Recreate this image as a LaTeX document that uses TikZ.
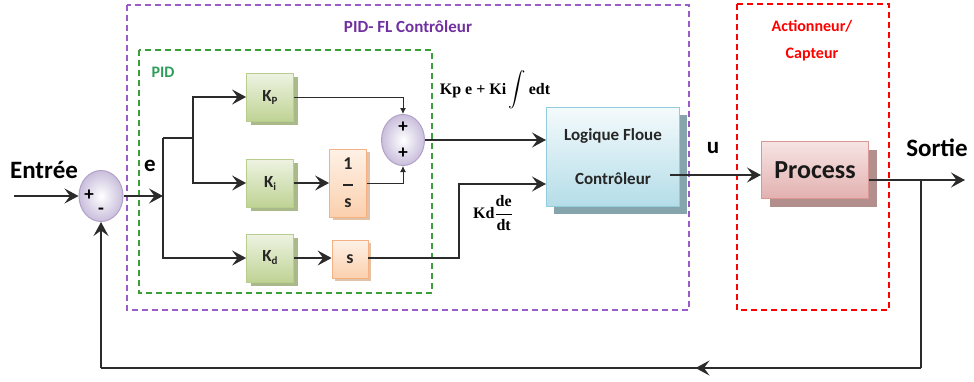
\documentclass[tikz,border=0pt]{standalone}
\usepackage{amsmath}
\usepackage{fontspec}
\usepackage{graphicx}
\setmainfont{Carlito}
\newfontfamily\serifb{Liberation Serif}
\usetikzlibrary{arrows.meta,shapes.geometric,shadows,calc,decorations.markings}
\definecolor{gtop}{HTML}{EEF3E2}
\definecolor{gbot}{HTML}{BFD394}
\definecolor{gbrd}{HTML}{B9CD8E}
\definecolor{gsh}{HTML}{A9B98A}
\definecolor{otop}{HTML}{FEF1E6}
\definecolor{obot}{HTML}{FBD0AE}
\definecolor{obrd}{HTML}{F4B183}
\definecolor{osh}{HTML}{E2C2A6}
\definecolor{ctop}{HTML}{FFFFFF}
\definecolor{cbot}{HTML}{C9BEDC}
\definecolor{cbrd}{HTML}{B3A2C7}
\definecolor{ftop}{HTML}{F4FAFC}
\definecolor{fbot}{HTML}{B4DDE8}
\definecolor{fbrd}{HTML}{93CDDD}
\definecolor{fsh}{HTML}{86A4AB}
\definecolor{ptop}{HTML}{F6E4E3}
\definecolor{pbot}{HTML}{E2B1B0}
\definecolor{pbrd}{HTML}{D99694}
\definecolor{psh}{HTML}{B28E8D}
\definecolor{purp}{HTML}{9A5CC6}
\definecolor{purptxt}{HTML}{7030A0}
\definecolor{dgreen}{HTML}{3A9E3A}
\definecolor{pidtxt}{HTML}{2E9D5B}
\definecolor{lncol}{HTML}{2B2B2B}
\newcommand\lowsub[1]{\raisebox{-3pt}{\fontsize{11pt}{11pt}\selectfont #1}}
\tikzset{
  ln/.style={draw=lncol, line width=1.3pt},
  tipb/.tip={Stealth[length=14pt,width=15pt,inset=5.5pt]},
  arr/.style={ln, -tipb},
  arrs/.style={ln, line width=1pt, -{Latex[length=6pt,width=6pt]}},
  gbox/.style={draw=gbrd, line width=0.8pt, top color=gtop, bottom color=gbot,
    minimum width=47pt, minimum height=48pt, inner sep=0pt,
    font=\fontsize{17pt}{17pt}\selectfont\bfseries, text=black!85,
    drop shadow={shadow xshift=4pt, shadow yshift=-4pt, fill=gsh, opacity=1}},
  obox/.style={draw=obrd, line width=0.8pt, top color=otop, bottom color=obot,
    minimum width=37pt, inner sep=0pt, align=center,
    font=\fontsize{18pt}{18pt}\selectfont\bfseries, text=black!85,
    drop shadow={shadow xshift=3pt, shadow yshift=-3pt, fill=osh, opacity=1}},
  sumc/.style={ellipse, draw=cbrd, line width=1pt, inner color=ctop, outer color=cbot,
    minimum width=44pt, minimum height=51pt, inner sep=0pt},
  sign/.style={font=\fontsize{19pt}{19pt}\selectfont\bfseries, inner sep=0pt},
  flbox/.style={draw=fbrd, line width=1pt, top color=ftop, bottom color=fbot,
    minimum width=133pt, minimum height=99pt, inner sep=0pt, align=center,
    font=\fontsize{17pt}{20pt}\selectfont\bfseries, text=black!85,
    drop shadow={shadow xshift=7pt, shadow yshift=-7pt, fill=fsh, opacity=1}},
  pbox/.style={draw=pbrd, line width=1pt, top color=ptop, bottom color=pbot,
    minimum width=107pt, minimum height=57pt, inner sep=0pt,
    font=\fontsize{26pt}{26pt}\selectfont\bfseries, text=black!90,
    drop shadow={shadow xshift=8pt, shadow yshift=-8pt, fill=psh, opacity=1}},
  lbl/.style={inner sep=0pt, font=\fontsize{25pt}{25pt}\selectfont\bfseries},
  dashp/.style={draw=purp, line width=1.6pt, dash pattern=on 6pt off 4pt},
  dashg/.style={draw=dgreen, line width=1.6pt, dash pattern=on 6pt off 4pt},
  dashr/.style={draw=red, line width=1.6pt, dash pattern=on 6pt off 4pt},
}
\begin{document}
\begin{tikzpicture}[x=1pt,y=-1pt]
\useasboundingbox (0,0) rectangle (974,381);
% dashed regions
\draw[dashp] (127,5) rectangle (689,310);
\draw[dashg] (139,50) rectangle (432,293);
\draw[dashr] (737,4) rectangle (889,310);
\node[inner sep=0pt, text=purptxt, font=\fontsize{17pt}{17pt}\selectfont\bfseries] (ttitle) at (408,27) {PID- FL Contrôleur};
\node[inner sep=0pt, text=pidtxt, font=\fontsize{16pt}{16pt}\selectfont\bfseries] (tpid) at (163,72) {PID};
\node[inner sep=0pt, text=red, align=center, font=\fontsize{16pt}{27pt}\selectfont\bfseries] (tact) at (812,41) {Actionneur/\\Capteur};
% blocks
\node[sumc] (s1) at (101,196) {};
\node[sign] (s1p) at (89,195) {+};
\node[sign] (s1m) at (101,211) {-};
\node[gbox] (Kp) at (270,97) {K\lowsub{P}};
\node[gbox] (Ki) at (270,183) {K\lowsub{i}};
\node[gbox] (Kd) at (270,258) {K\lowsub{d}};
\node[obox, minimum height=68pt] (inv) at (348,183) {1\\[-2pt]\rule{10pt}{1.3pt}\\[4pt]s};
\node[obox, minimum height=38pt, minimum width=36pt] (sb) at (350,259) {s};
\node[sumc, minimum width=43pt] (s2) at (403,140) {};
\node[sign] (s2a) at (403,127) {+};
\node[sign] (s2b) at (403,153) {+};
\node[flbox] (FL) at (613,157) {Logique Floue\\[24pt]Contrôleur};
\node[pbox] (P) at (815,170) {Process};
% labels
\node[lbl] (tin) at (44,170) {Entrée};
\node[lbl, font=\fontsize{23pt}{23pt}\selectfont\bfseries] (te) at (150,166) {e};
\node[lbl, font=\fontsize{23pt}{23pt}\selectfont\bfseries] (tu) at (713,148) {u};
\node[lbl] (tout) at (937,148) {Sortie};
\node[inner sep=0pt, font=\serifb\fontsize{16pt}{16pt}\selectfont\bfseries] (tpi) at (495,90) {Kp e + Ki\,$\displaystyle\int$\,edt};
\node[inner sep=0pt, font=\serifb\fontsize{16pt}{16pt}\selectfont\bfseries] (tkd) at (493,213) {Kd$\displaystyle\frac{\mbox{de}}{\mbox{dt}}$};
% connectors
\coordinate (in) at (14,196);
\coordinate (b1) at (163,196);
\coordinate (b2) at (163,138);
\coordinate (b3) at (193,138);
\coordinate (dk) at (459,184);
\coordinate (uo) at (670,175);
\coordinate (po) at (869,180);
\coordinate (out) at (965,180);
\coordinate (fb) at (921,180);
\coordinate (c1) at (921,368);
\coordinate (c2) at (101,368);
\draw[arr] (in) -- (s1.west);
\draw[arr] (s1.east) -- (b1);
\draw[arr] (b2) |- (Kd.west);
\draw[ln] (b2) -- (b3);
\draw[arr] (b3) |- (Kp.west);
\draw[arr] (b3) |- (Ki.west);
\draw[arr] (Ki.east) -- (inv.west);
\draw[arr] (Kd.east) -- (sb.west |- Kd.east);
\draw[arrs] (Kp.east) -| (s2.north);
\draw[arrs] (inv.east) -| (s2.south);
\draw[arr] (s2.east) -- (s2.east -| FL.west);
\draw[arr] (sb.east |- Kd.east) -| (dk) -- (dk -| FL.west);
\draw[arr] (uo) -- (uo -| P.west);
\draw[arr] (po) -- (out);
\draw[ln] (fb) -- (c1);
\draw[ln, postaction={decorate}, decoration={markings, mark=at position 0.275 with {\arrow{tipb}}}] (c1) -- (c2);
\draw[arr] (c2) -- (s1.south);
\end{tikzpicture}
\end{document}
